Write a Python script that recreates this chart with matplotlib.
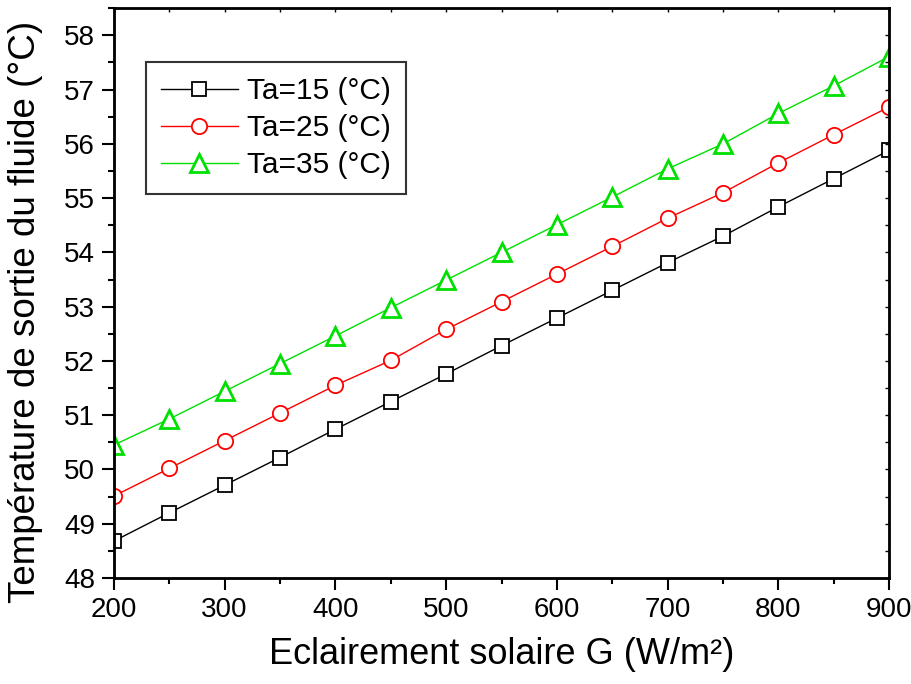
import matplotlib
matplotlib.use("Agg")
import matplotlib.pyplot as plt
from matplotlib.ticker import MultipleLocator

plt.rcParams['font.family'] = ['Liberation Sans', 'DejaVu Sans']

G = [200, 250, 300, 350, 400, 450, 500, 550, 600, 650, 700, 750, 800, 850, 900]
ta15 = [48.68, 49.20, 49.71, 50.22, 50.74, 51.25, 51.76, 52.28, 52.79, 53.30,
        53.81, 54.30, 54.84, 55.36, 55.88]
ta25 = [49.51, 50.02, 50.53, 51.04, 51.55, 52.01, 52.58, 53.09, 53.60, 54.11,
        54.63, 55.10, 55.65, 56.17, 56.68]
ta35 = [50.45, 50.93, 51.44, 51.95, 52.46, 52.98, 53.49, 54.00, 54.51, 55.02,
        55.54, 56.00, 56.56, 57.07, 57.61]

fig = plt.figure(figsize=(9.11, 6.84), dpi=100)
ax = fig.add_axes([0.125, 0.155, 0.851, 0.833])

ax.plot(G, ta15, color="black", lw=1, marker="s", ms=9.5, mfc="white",
        mec="black", mew=1.3, label="Ta=15 (°C)")
ax.plot(G, ta25, color="red", lw=1, marker="o", ms=11, mfc="white",
        mec="red", mew=1.3, label="Ta=25 (°C)")
ax.plot(G, ta35, color="#00e000", lw=1, marker="^", ms=13, mfc="white",
        mec="#00e000", mew=2, label="Ta=35 (°C)")

ax.set_xlim(200, 900)
ax.set_ylim(48, 58.5)
ax.xaxis.set_major_locator(MultipleLocator(100))
ax.xaxis.set_minor_locator(MultipleLocator(50))
ax.yaxis.set_major_locator(MultipleLocator(1))
ax.yaxis.set_minor_locator(MultipleLocator(0.5))

for s in ax.spines.values():
    s.set_linewidth(2)

ax.tick_params(which="both", direction="out", labelsize=20, width=1.5)
ax.tick_params(which="major", length=8.5, pad=5)
ax.tick_params(which="minor", length=4)

# small inward ticks on top and right
axt = ax.twiny()
axt.set_xlim(ax.get_xlim())
axt.xaxis.set_major_locator(MultipleLocator(100))
axt.xaxis.set_minor_locator(MultipleLocator(50))
axt.tick_params(which="both", direction="in", length=3, width=1, labeltop=False)
axr = ax.twinx()
axr.set_ylim(ax.get_ylim())
axr.yaxis.set_major_locator(MultipleLocator(1))
axr.yaxis.set_minor_locator(MultipleLocator(0.5))
axr.tick_params(which="both", direction="in", length=3, width=1, labelright=False)

ax.set_xlabel("Eclairement solaire G (W/m²)", fontsize=26, labelpad=10)
ax.set_ylabel("Température de sortie du fluide (°C)", fontsize=26.5)
ax.yaxis.set_label_coords(-0.092, 0.467)

leg = ax.legend(loc="upper left", bbox_to_anchor=(0.041, 0.905), fontsize=21.5,
                frameon=True, fancybox=False, edgecolor="black",
                handlelength=2.6, handletextpad=0.3, labelspacing=0.3,
                borderpad=0.5, borderaxespad=0)
leg.get_frame().set_linewidth(1.5)

fig.savefig("out.png", dpi=100)
